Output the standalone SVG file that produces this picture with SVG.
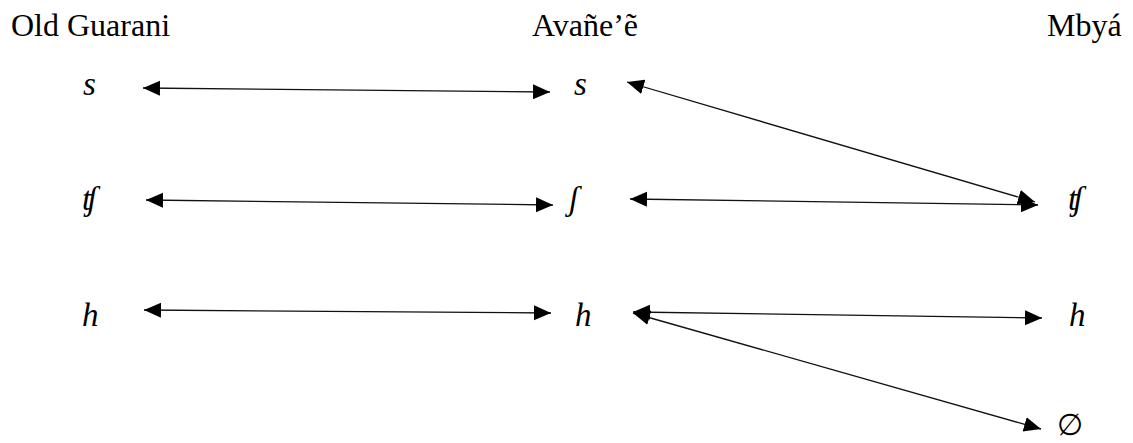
<svg xmlns="http://www.w3.org/2000/svg" width="1133" height="443" viewBox="0 0 1133 443">
<style>
.title{font-family:"Liberation Serif","DejaVu Serif",serif;font-size:32px;fill:#000}
.sym{font-family:"Liberation Serif","DejaVu Serif",serif;font-size:33px;font-style:italic;fill:#000}
.up{font-family:"Liberation Serif","DejaVu Serif",serif;font-size:30px;fill:#000}
.conn line{stroke:#111;stroke-width:1.3;marker-start:url(#ah);marker-end:url(#ah)}
</style>
<defs>
<marker id="ah" markerUnits="userSpaceOnUse" markerWidth="18" markerHeight="16" refX="17" refY="7.5" orient="auto-start-reverse" viewBox="0 0 18 16">
<path d="M0,0 L17,7.5 L0,15 z" fill="#000"/>
</marker>
</defs>
<rect width="1133" height="443" fill="#fff"/>
<g id="head-old"><text class="title" x="11" y="36">Old Guarani</text></g>
<g id="head-avane"><text class="title" x="532" y="36">Avañe’ẽ</text></g>
<g id="head-mbya"><text class="title" x="1047" y="36">Mbyá</text></g>
<g id="og-s"><text class="sym" x="83" y="95">s</text></g>
<g id="og-tsh"><text class="sym" x="82" y="210">ʧ</text></g>
<g id="og-h"><text class="sym" x="82" y="326">h</text></g>
<g id="av-s"><text class="sym" x="574" y="95">s</text></g>
<g id="av-sh"><text class="sym" x="569" y="210">ʃ</text></g>
<g id="av-h"><text class="sym" x="575" y="326">h</text></g>
<g id="mb-tsh"><text class="sym" x="1068" y="210">ʧ</text></g>
<g id="mb-h"><text class="sym" x="1069" y="326">h</text></g>
<g id="mb-null"><text class="up" x="1057" y="435">∅</text></g>
<g id="connectors" class="conn">
<line x1="143" y1="88" x2="550" y2="92"/>
<line x1="627" y1="82" x2="1035" y2="202"/>
<line x1="146" y1="200" x2="553" y2="205"/>
<line x1="630" y1="199" x2="1038" y2="205"/>
<line x1="144" y1="310" x2="551" y2="313"/>
<line x1="633" y1="312" x2="1042" y2="318"/>
<line x1="633" y1="313" x2="1041" y2="429"/>
</g>
</svg>
